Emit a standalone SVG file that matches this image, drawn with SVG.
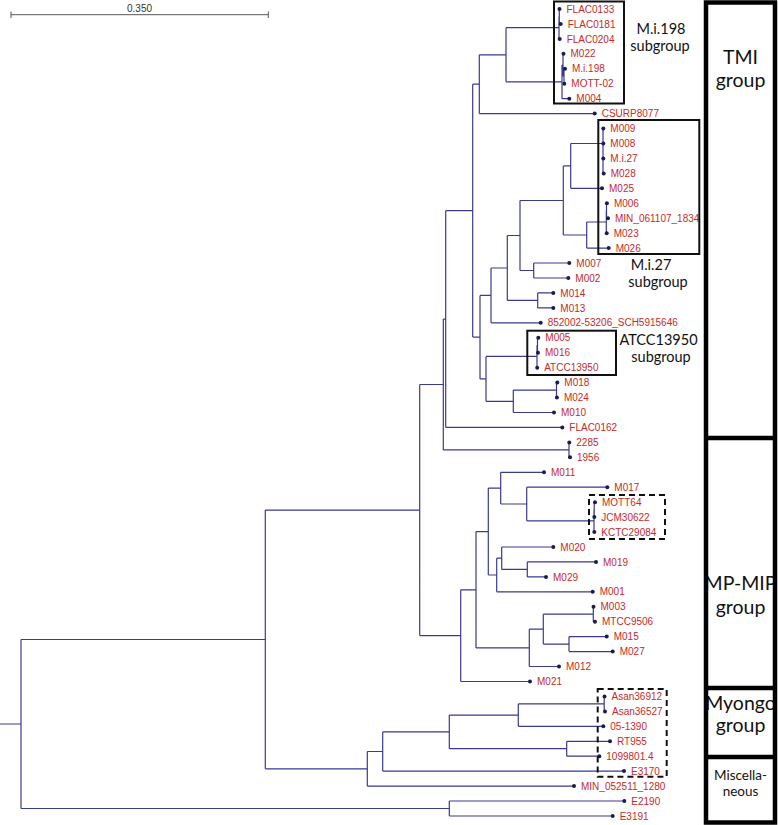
<svg xmlns="http://www.w3.org/2000/svg" width="778" height="825" viewBox="0 0 778 825">
<style>
.br{fill:none;stroke:#3a3a8e;stroke-width:1.2}
.dot{fill:#1b1b4d}
.lb{font-family:"Liberation Sans",Arial,sans-serif;font-size:10px;fill:#c62a2a}
.box{fill:none;stroke:#111;stroke-width:2}
.dbox{fill:none;stroke:#111;stroke-width:2;stroke-dasharray:6 4}
.sg{font-family:Lato,"Open Sans",sans-serif;font-size:14.5px;fill:#111;text-anchor:middle}
.gl{font-family:Lato,"Open Sans",sans-serif;font-size:19.5px;fill:#111;text-anchor:middle}
.gs{font-family:Lato,"Open Sans",sans-serif;font-size:13.5px;fill:#111;text-anchor:middle}
.col{fill:none;stroke:#000;stroke-width:4.5}
</style>
<rect width="778" height="825" fill="#fff"/>
<g id="scale">
<path d="M11,14.7 H268.3 M11,11.5 V18 M268.3,11.5 V18" fill="none" stroke="#555" stroke-width="1"/>
<text x="139.5" y="12" font-family="Liberation Sans,Arial,sans-serif" font-size="10" fill="#333" text-anchor="middle">0.350</text>
</g>
<g id="connectors" class="br">
<path d="M0,724 H21 M21,639.5 V808.5 M21,639.5 H265.3 M21,808.5 H449.3
M449.3,801 V816 M449.3,801 H624.3 M449.3,816 H612.7
M265.3,510.1 V768.8 M265.3,510.1 H419.7 M265.3,768.8 H367.3
M367.3,751.5 V786.1 M367.3,751.5 H382.7 M367.3,786.1 H574
M382.7,731.9 V771.1 M382.7,731.9 H449.3 M382.7,771.1 H624
M449.3,715.1 V748.7 M449.3,715.1 H518.3 M449.3,748.7 H566.7
M518.3,703.9 V726.3 M518.3,703.9 H604.2 M518.3,726.3 H603.3
M604.2,696.4 V711.4 M604.2,696.4 H604.5 M604.2,711.4 H605
M566.7,741.3 V756.2 M566.7,741.3 H610 M566.7,756.2 H599.3
M419.7,384.5 V635.6 M419.7,384.5 H443.3 M419.7,635.6 H460.7
M460.7,589.8 V681.5 M460.7,589.8 H476 M460.7,681.5 H530
M476,531.6 V647.9 M476,531.6 H488.3 M476,647.9 H529.3
M488.3,488.1 V575 M488.3,488.1 H500.7 M488.3,575 H496.7
M500.7,472.3 V504 M500.7,472.3 H544 M500.7,504 H526.7
M526.7,487.2 V520.8 M526.7,487.2 H607.3 M526.7,520.8 H594
M594,509.6 V532 M594,509.6 H594.2 M594,532 H594.3
M594.2,502.2 V517.1 M594.2,502.2 H595 M594.2,517.1 H594.3
M496.7,558.2 V591.8 M496.7,558.2 H501.7 M496.7,591.8 H592.7
M501.7,547 V569.4 M501.7,547 H553.3 M501.7,569.4 H527.3
M527.3,561.9 V576.9 M527.3,561.9 H596 M527.3,576.9 H546
M529.3,629.2 V666.5 M529.3,629.2 H543.3 M529.3,666.5 H559
M543.3,614.2 V644.1 M543.3,614.2 H593.3 M543.3,644.1 H569
M593.3,606.8 V621.7 M593.3,606.8 H593.5 M593.3,621.7 H595
M569,636.6 V651.6 M569,636.6 H606.7 M569,651.6 H612.7
M443.3,319.1 V449.9 M443.3,319.1 H445.7 M443.3,449.9 H569
M569,442.4 V457.3 M569,442.4 H569.3 M569,457.3 H570
M445.7,210.7 V427.4 M445.7,210.7 H472.7 M445.7,427.4 H562.3
M472.7,84.2 V337.1 M472.7,84.2 H479.3 M472.7,337.1 H480
M479.3,54.8 V113.6 M479.3,54.8 H506 M479.3,113.6 H594.7
M506,27.7 V81.8 M506,27.7 H559 M506,81.8 H562
M559,16.5 V38.9 M559,16.5 H559.3 M559,38.9 H559.7
M559.3,9 V23.9 M559.3,9 H559.5 M559.3,23.9 H560.7
M562,65 V98.7 M562,65 H563 M562,98.7 H569.3
M563,53.8 V76.2 M563,53.8 H563.5 M563,76.2 H564
M564,68.8 V83.7 M564,68.8 H565 M564,83.7 H564.3
M480,295.4 V378.9 M480,295.4 H491 M480,378.9 H486
M491,268 V322.8 M491,268 H507.3 M491,322.8 H540.7
M507.3,235.5 V300.4 M507.3,235.5 H520 M507.3,300.4 H537.7
M537.7,292.9 V307.9 M537.7,292.9 H553.3 M537.7,307.9 H553.3
M520,200.5 V270.5 M520,200.5 H563.3 M520,270.5 H533.7
M533.7,263 V278 M533.7,263 H569.3 M533.7,278 H568.3
M563.3,165.9 V235 M563.3,165.9 H570.7 M563.3,235 H586.7
M570.7,143.5 V188.3 M570.7,143.5 H603 M570.7,188.3 H602
M603,128.6 V173.4
M586.7,222 V248.1 M586.7,222 H606.3 M586.7,248.1 H608.7
M606.3,210.7 V233.2 M606.3,210.7 H606.5 M606.3,233.2 H606.7
M606.5,203.3 V218.2 M606.5,203.3 H606.9 M606.5,218.2 H608
M486,356.4 V401.3 M486,356.4 H537 M486,401.3 H513.3
M537,345.2 V367.7 M537,345.2 H537.5 M537,367.7 H537.2
M537.5,337.8 V352.7 M537.5,337.8 H538.3 M537.5,352.7 H538
M513.3,390.1 V412.5 M513.3,390.1 H556.5 M513.3,412.5 H554
M556.5,382.6 V397.5 M556.5,382.6 H557.3 M556.5,397.5 H556.9"/>
</g>
<g id="leaves">
<g id="n1"><circle class="dot" cx="559.5" cy="9" r="2"/><text class="lb" x="566.5" y="12.6">FLAC0133</text></g>
<g id="n2"><circle class="dot" cx="560.7" cy="23.9" r="2"/><text class="lb" x="567.7" y="27.5">FLAC0181</text></g>
<g id="n3"><circle class="dot" cx="559.7" cy="38.9" r="2"/><text class="lb" x="566.7" y="42.5">FLAC0204</text></g>
<g id="n4"><circle class="dot" cx="563.5" cy="53.8" r="2"/><text class="lb" x="570.5" y="57.4">M022</text></g>
<g id="n5"><circle class="dot" cx="565" cy="68.8" r="2"/><text class="lb" x="572" y="72.4">M.i.198</text></g>
<g id="n6"><circle class="dot" cx="564.3" cy="83.7" r="2"/><text class="lb" x="571.3" y="87.3">MOTT-02</text></g>
<g id="n7"><circle class="dot" cx="569.3" cy="98.7" r="2"/><text class="lb" x="576.3" y="102.3">M004</text></g>
<g id="n8"><circle class="dot" cx="594.7" cy="113.6" r="2"/><text class="lb" x="601.7" y="117.2">CSURP8077</text></g>
<g id="n9"><circle class="dot" cx="603.3" cy="128.6" r="2"/><text class="lb" x="610.3" y="132.2">M009</text></g>
<g id="n10"><circle class="dot" cx="603.3" cy="143.5" r="2"/><text class="lb" x="610.3" y="147.1">M008</text></g>
<g id="n11"><circle class="dot" cx="603.3" cy="158.4" r="2"/><text class="lb" x="610.3" y="162">M.i.27</text></g>
<g id="n12"><circle class="dot" cx="603.7" cy="173.4" r="2"/><text class="lb" x="610.7" y="177">M028</text></g>
<g id="n13"><circle class="dot" cx="602" cy="188.3" r="2"/><text class="lb" x="609" y="191.9">M025</text></g>
<g id="n14"><circle class="dot" cx="606.9" cy="203.3" r="2"/><text class="lb" x="613.9" y="206.9">M006</text></g>
<g id="n15"><circle class="dot" cx="608" cy="218.2" r="2"/><text class="lb" x="615" y="221.8">MIN_061107_1834</text></g>
<g id="n16"><circle class="dot" cx="606.7" cy="233.2" r="2"/><text class="lb" x="613.7" y="236.8">M023</text></g>
<g id="n17"><circle class="dot" cx="608.7" cy="248.1" r="2"/><text class="lb" x="615.7" y="251.7">M026</text></g>
<g id="n18"><circle class="dot" cx="569.3" cy="263" r="2"/><text class="lb" x="576.3" y="266.6">M007</text></g>
<g id="n19"><circle class="dot" cx="568.3" cy="278" r="2"/><text class="lb" x="575.3" y="281.6">M002</text></g>
<g id="n20"><circle class="dot" cx="553.3" cy="292.9" r="2"/><text class="lb" x="560.3" y="296.5">M014</text></g>
<g id="n21"><circle class="dot" cx="553.3" cy="307.9" r="2"/><text class="lb" x="560.3" y="311.5">M013</text></g>
<g id="n22"><circle class="dot" cx="540.7" cy="322.8" r="2"/><text class="lb" x="547.7" y="326.4">852002-53206_SCH5915646</text></g>
<g id="n23"><circle class="dot" cx="538.3" cy="337.8" r="2"/><text class="lb" x="545.3" y="341.4">M005</text></g>
<g id="n24"><circle class="dot" cx="538" cy="352.7" r="2"/><text class="lb" x="545" y="356.3">M016</text></g>
<g id="n25"><circle class="dot" cx="537.2" cy="367.7" r="2"/><text class="lb" x="544.2" y="371.3">ATCC13950</text></g>
<g id="n26"><circle class="dot" cx="557.3" cy="382.6" r="2"/><text class="lb" x="564.3" y="386.2">M018</text></g>
<g id="n27"><circle class="dot" cx="556.9" cy="397.5" r="2"/><text class="lb" x="563.9" y="401.1">M024</text></g>
<g id="n28"><circle class="dot" cx="554" cy="412.5" r="2"/><text class="lb" x="561" y="416.1">M010</text></g>
<g id="n29"><circle class="dot" cx="562.3" cy="427.4" r="2"/><text class="lb" x="569.3" y="431">FLAC0162</text></g>
<g id="n30"><circle class="dot" cx="569.3" cy="442.4" r="2"/><text class="lb" x="576.3" y="446">2285</text></g>
<g id="n31"><circle class="dot" cx="570" cy="457.3" r="2"/><text class="lb" x="577" y="460.9">1956</text></g>
<g id="n32"><circle class="dot" cx="544" cy="472.3" r="2"/><text class="lb" x="551" y="475.9">M011</text></g>
<g id="n33"><circle class="dot" cx="607.3" cy="487.2" r="2"/><text class="lb" x="614.3" y="490.8">M017</text></g>
<g id="n34"><circle class="dot" cx="595" cy="502.2" r="2"/><text class="lb" x="602" y="505.8">MOTT64</text></g>
<g id="n35"><circle class="dot" cx="594.3" cy="517.1" r="2"/><text class="lb" x="601.3" y="520.7">JCM30622</text></g>
<g id="n36"><circle class="dot" cx="594.3" cy="532" r="2"/><text class="lb" x="601.3" y="535.6">KCTC29084</text></g>
<g id="n37"><circle class="dot" cx="553.3" cy="547" r="2"/><text class="lb" x="560.3" y="550.6">M020</text></g>
<g id="n38"><circle class="dot" cx="596" cy="561.9" r="2"/><text class="lb" x="603" y="565.5">M019</text></g>
<g id="n39"><circle class="dot" cx="546" cy="576.9" r="2"/><text class="lb" x="553" y="580.5">M029</text></g>
<g id="n40"><circle class="dot" cx="592.7" cy="591.8" r="2"/><text class="lb" x="599.7" y="595.4">M001</text></g>
<g id="n41"><circle class="dot" cx="593.5" cy="606.8" r="2"/><text class="lb" x="600.5" y="610.4">M003</text></g>
<g id="n42"><circle class="dot" cx="595" cy="621.7" r="2"/><text class="lb" x="602" y="625.3">MTCC9506</text></g>
<g id="n43"><circle class="dot" cx="606.7" cy="636.6" r="2"/><text class="lb" x="613.7" y="640.2">M015</text></g>
<g id="n44"><circle class="dot" cx="612.7" cy="651.6" r="2"/><text class="lb" x="619.7" y="655.2">M027</text></g>
<g id="n45"><circle class="dot" cx="559" cy="666.5" r="2"/><text class="lb" x="566" y="670.1">M012</text></g>
<g id="n46"><circle class="dot" cx="530" cy="681.5" r="2"/><text class="lb" x="537" y="685.1">M021</text></g>
<g id="n47"><circle class="dot" cx="604.5" cy="696.4" r="2"/><text class="lb" x="611.5" y="700">Asan36912</text></g>
<g id="n48"><circle class="dot" cx="605" cy="711.4" r="2"/><text class="lb" x="612" y="715">Asan36527</text></g>
<g id="n49"><circle class="dot" cx="603.3" cy="726.3" r="2"/><text class="lb" x="610.3" y="729.9">05-1390</text></g>
<g id="n50"><circle class="dot" cx="610" cy="741.3" r="2"/><text class="lb" x="617" y="744.9">RT955</text></g>
<g id="n51"><circle class="dot" cx="599.3" cy="756.2" r="2"/><text class="lb" x="606.3" y="759.8">1099801.4</text></g>
<g id="n52"><circle class="dot" cx="624" cy="771.1" r="2"/><text class="lb" x="631" y="774.7">E3170</text></g>
<g id="n53"><circle class="dot" cx="574" cy="786.1" r="2"/><text class="lb" x="581" y="789.7">MIN_052511_1280</text></g>
<g id="n54"><circle class="dot" cx="624.3" cy="801" r="2"/><text class="lb" x="631.3" y="804.6">E2190</text></g>
<g id="n55"><circle class="dot" cx="612.7" cy="816" r="2"/><text class="lb" x="619.7" y="819.6">E3191</text></g>
</g>
<g id="subgroups">
<g id="sg-mi198"><rect class="box" x="554" y="1.5" width="70" height="102"/><text class="sg" x="661" y="34">M.i.198</text><text class="sg" x="660" y="50.5">subgroup</text></g>
<g id="sg-mi27"><rect class="box" x="598.3" y="120" width="101" height="134"/><text class="sg" x="651" y="270">M.i.27</text><text class="sg" x="658" y="287">subgroup</text></g>
<g id="sg-atcc"><rect class="box" x="527.3" y="330.7" width="88.7" height="44.3"/><text class="sg" x="658.5" y="345">ATCC13950</text><text class="sg" x="661" y="362">subgroup</text></g>
<g id="box-mott"><rect class="dbox" x="589" y="495" width="76" height="44"/></g>
<g id="box-myongo"><rect class="dbox" x="597.7" y="689" width="69" height="87.7"/></g>
</g>
<g id="groups">
<text class="gl" x="740.5" y="64">TMI</text>
<text class="gl" x="740.5" y="87">group</text>
<text class="gl" x="740.5" y="590">MP-MIP</text>
<text class="gl" x="740.5" y="614">group</text>
<text class="gl" x="740.5" y="710">Myongo</text>
<text class="gl" x="740.5" y="732">group</text>
<text class="gs" x="740.5" y="779.5">Miscella-</text>
<text class="gs" x="740.5" y="796">neous</text>
<rect class="col" x="706" y="2.5" width="69" height="820"/>
<path class="col" d="M706,438 H775 M706,688 H775 M706,757 H775"/>
</g>
</svg>
